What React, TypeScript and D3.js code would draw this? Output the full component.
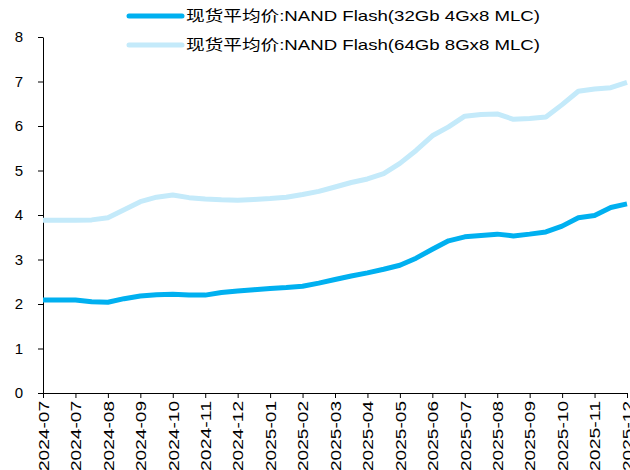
import { useEffect, useRef } from 'react';
import * as d3 from 'd3';

const tickLabels = [
  '2024-07', '2024-07', '2024-08', '2024-09', '2024-10', '2024-11', '2024-12',
  '2025-01', '2025-02', '2025-03', '2025-04', '2025-05', '2025-06', '2025-07',
  '2025-08', '2025-09', '2025-10', '2025-11', '2025-12',
];

// half-period samples (two per tick interval)
const mlc32 = [
  2.09, 2.09, 2.09, 2.05, 2.04, 2.12, 2.18, 2.21, 2.22, 2.2, 2.2, 2.26, 2.29,
  2.32, 2.35, 2.37, 2.4, 2.47, 2.55, 2.63, 2.7, 2.78, 2.87, 3.03, 3.23, 3.42,
  3.51, 3.54, 3.57, 3.53, 3.57, 3.62, 3.75, 3.94, 3.99, 4.17, 4.25,
];
const mlc64 = [
  3.88, 3.88, 3.88, 3.89, 3.94, 4.12, 4.3, 4.4, 4.45, 4.39, 4.36, 4.34, 4.33,
  4.35, 4.37, 4.4, 4.46, 4.53, 4.63, 4.73, 4.81, 4.93, 5.16, 5.45, 5.78, 5.98,
  6.22, 6.26, 6.27, 6.15, 6.17, 6.2, 6.48, 6.78, 6.83, 6.86, 6.98,
];
const seriesNames = [
  '现货平均价:NAND Flash(32Gb 4Gx8 MLC)',
  '现货平均价:NAND Flash(64Gb 8Gx8 MLC)',
];
const colors = ['#00b0f0', '#c4eafa'];

const App = () => {
  const svgRef = useRef<SVGSVGElement>(null!);
  const width = 630;
  const height = 470;
  const margin = { left: 43, right: 3, top: 37, bottom: 77 };
  const font = 'Arial, "Liberation Sans", "Noto Sans CJK SC", sans-serif';

  useEffect(() => {
    const svg = d3.select(svgRef.current);
    svg.attr('width', width).attr('height', height);

    const x = d3
      .scaleLinear()
      .domain([0, tickLabels.length - 1])
      .range([margin.left, width - margin.right]);
    const y = d3
      .scaleLinear()
      .domain([0, 8])
      .range([height - margin.bottom, margin.top]);

    const yAxis = svg
      .append('g')
      .attr('transform', `translate(${margin.left},0)`)
      .call(d3.axisLeft(y).ticks(8).tickSize(5).tickSizeOuter(0).tickPadding(15));
    yAxis.select('.domain').attr('stroke', '#000');
    yAxis.selectAll('text').attr('font-size', 15).attr('font-family', font).attr('fill', '#000');

    const xAxis = svg
      .append('g')
      .attr('transform', `translate(0,${height - margin.bottom})`)
      .call(
        d3
          .axisBottom(x)
          .tickValues(d3.range(tickLabels.length))
          .tickFormat(i => tickLabels[i as number])
          .tickSize(5)
          .tickSizeOuter(0)
      );
    xAxis.select('.domain').attr('stroke', '#000');
    // the source stretches its text along the reading direction
    xAxis
      .selectAll('text')
      .attr('font-size', 15)
      .attr('font-family', font)
      .attr('fill', '#000')
      .attr('transform', 'rotate(-90)')
      .attr('text-anchor', 'end')
      .attr('x', -8)
      .attr('y', 0)
      .attr('dy', '0.35em')
      .attr('textLength', 70)
      .attr('lengthAdjust', 'spacingAndGlyphs');

    const line = d3
      .line<number>()
      .x((_, i) => x(i / 2))
      .y(d => y(d));

    [mlc64, mlc32].forEach((s, k) => {
      svg
        .append('path')
        .datum(s)
        .attr('fill', 'none')
        .attr('stroke', colors[1 - k])
        .attr('stroke-width', 5)
        .attr('stroke-linejoin', 'round')
        .attr('d', line);
    });

    const legend = svg.append('g');
    seriesNames.forEach((name, i) => {
      const ly = 16 + i * 29;
      legend
        .append('line')
        .attr('x1', 129)
        .attr('x2', 182)
        .attr('y1', ly)
        .attr('y2', ly)
        .attr('stroke', colors[i])
        .attr('stroke-width', 5)
        .attr('stroke-linecap', 'round');
      legend
        .append('text')
        .attr('x', 186)
        .attr('y', ly)
        .attr('dy', '0.35em')
        .attr('font-size', 15)
        .attr('font-family', font)
        .attr('textLength', 354)
        .attr('lengthAdjust', 'spacingAndGlyphs')
        .text(name);
    });

    return () => {
      svgRef.current.innerHTML = '';
    };
  }, []);

  return <svg ref={svgRef} style={{ position: 'absolute', left: 0, top: 0 }}></svg>;
};

export default App;
